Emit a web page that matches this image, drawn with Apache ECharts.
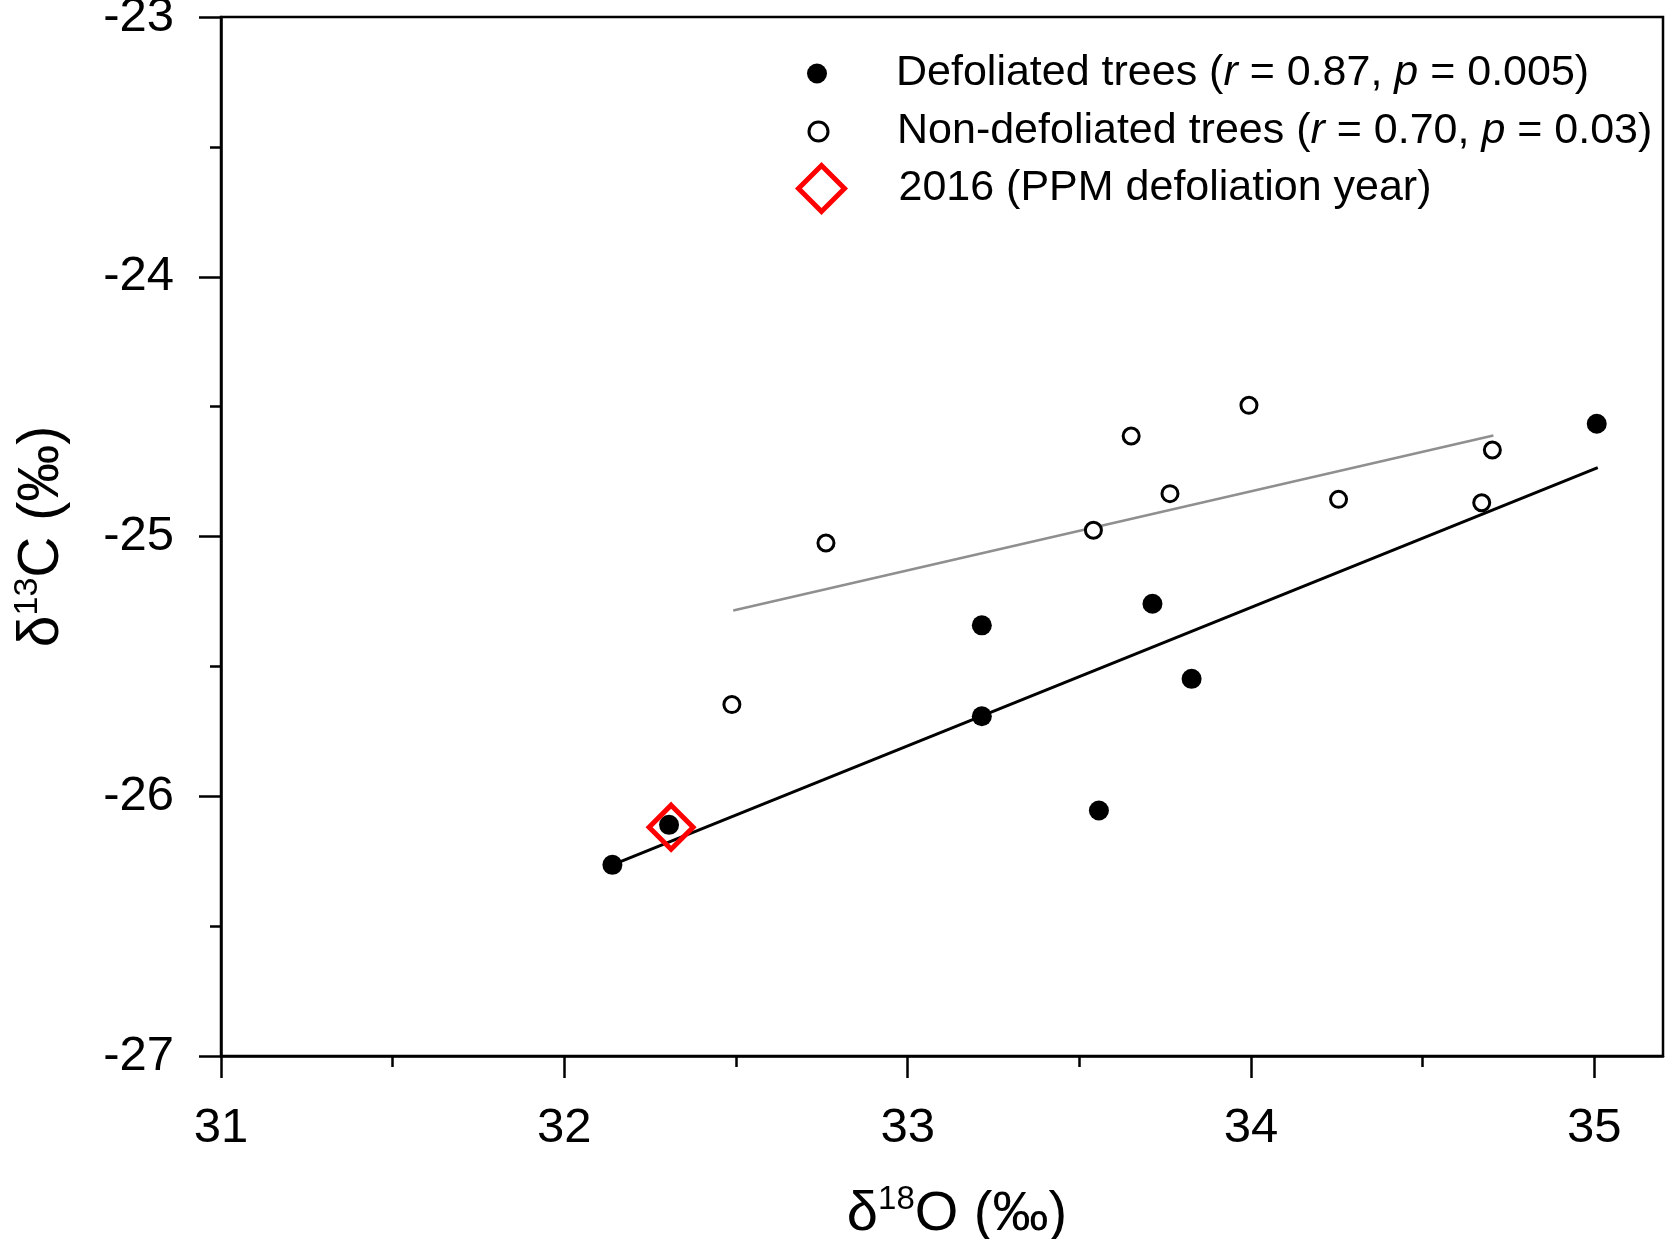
<!DOCTYPE html>
<html>
<head>
<meta charset="utf-8">
<script src="https://cdn.jsdelivr.net/npm/echarts@6/dist/echarts.min.js"></script>
<style>
  html, body { margin: 0; padding: 0; background: #fff; }
  #main { width: 1666px; height: 1239px; }
</style>
</head>
<body>
<div id="main"></div>
<script>
// values
var defoliatedX = [32.14, 32.305, 33.216, 33.216, 33.557, 33.713, 33.827, 35.007];
var defoliatedY = [-26.264, -26.11, -25.342, -25.692, -26.055, -25.259, -25.548, -24.566];
var nonDefoliatedX = [32.488, 32.762, 33.541, 33.651, 33.764, 33.994, 34.255, 34.672, 34.703];
var nonDefoliatedY = [-25.647, -25.025, -24.976, -24.613, -24.835, -24.495, -24.857, -24.870, -24.667];
var year2016X = [32.311];
var year2016Y = [-26.119];
// fitted lines, end points
var defoliatedFitX = [32.14, 35.01];
var defoliatedFitY = [-26.264, -24.735];
var nonDefoliatedFitX = [32.492, 34.706];
var nonDefoliatedFitY = [-25.285, -24.611];

var xMajorTicks = [31, 32, 33, 34, 35];
var xMinorTicks = [31.5, 32.5, 33.5, 34.5];

var names = ['Defoliated trees', 'Non-defoliated trees', '2016 (PPM defoliation year)'];
var legendText = {
    'Defoliated trees': '{n|Defoliated trees (}{i|r}{n| = 0.87, }{i|p}{n| = 0.005)}',
    'Non-defoliated trees': '{n|Non-defoliated trees (}{i|r}{n| = 0.70, }{i|p}{n| = 0.03)}',
    '2016 (PPM defoliation year)': '{n|2016 (PPM defoliation year)}'
};

function pairs(xs, ys) {
    var out = [];
    for (var i = 0; i < xs.length; i++) out.push([xs[i], ys[i]]);
    return out;
}

var font = "'Liberation Sans', Arial, sans-serif";
var legendRich = {
    n: { fontSize: 43, fontFamily: font, color: '#000', lineHeight: 50 },
    i: { fontSize: 43, fontFamily: font, color: '#000', fontStyle: 'italic', lineHeight: 50 }
};

function makeLegend(name, top, left, size, pad, border) {
    return {
        data: [name],
        top: top,
        left: left,
        padding: 0,
        itemWidth: size,
        itemHeight: size,
        selectedMode: false,
        itemStyle: { borderWidth: border },
        formatter: function (n) { return legendText[n]; },
        textStyle: { rich: legendRich, padding: [0, 0, 0, pad] }
    };
}

var myChart = echarts.init(document.getElementById('main'));
var option = {
    backgroundColor: '#fff',
    animation: false,
    grid: {
        left: 221, right: 3, top: 17, bottom: 183,
        outerBoundsMode: 'none',
        containLabel: false,
        show: true, borderColor: '#000', borderWidth: 2.5
    },
    legend: [
        makeLegend(names[0], 52, 807, 20, 64, 0),
        makeLegend(names[1], 110, 807.5, 19, 64, 3),
        makeLegend(names[2], 163, 796, 46, 49, 5)
    ],
    xAxis: [{
        type: 'value',
        position: 'bottom',
        min: 31, max: 35.2, interval: 1,
        splitLine: { show: false },
        axisLine: { lineStyle: { color: '#000', width: 2.5 } },
        axisTick: { customValues: xMajorTicks, length: 22, lineStyle: { color: '#000', width: 2.5 } },
        axisLabel: { customValues: xMajorTicks, fontSize: 49, fontFamily: font, color: '#000', margin: 48 },
        name: '{d|δ}{s|18}{n|O (‰)}',
        nameLocation: 'middle',
        nameGap: 127,
        nameTextStyle: {
            padding: [0, 0, 0, 30],
            rich: {
                d: { fontSize: 56, fontFamily: font, color: '#000', lineHeight: 60, verticalAlign: 'bottom' },
                s: { fontSize: 33, fontFamily: font, color: '#000', lineHeight: 60, verticalAlign: 'top', padding: [0, 0, 14, 0] },
                n: { fontSize: 56, fontFamily: font, color: '#000', lineHeight: 60, verticalAlign: 'bottom' }
            }
        }
    }, {
        type: 'value',
        position: 'bottom',
        min: 31, max: 35.2, interval: 1,
        splitLine: { show: false },
        axisLine: { show: false },
        axisTick: { customValues: xMinorTicks, length: 11, lineStyle: { color: '#000', width: 2.5 } },
        axisLabel: { show: false }
    }],
    yAxis: {
        type: 'value',
        min: -27, max: -23, interval: 1,
        splitLine: { show: false },
        axisLine: { lineStyle: { color: '#000', width: 2.5 } },
        axisTick: { length: 22, lineStyle: { color: '#000', width: 2.5 } },
        minorTick: { show: true, splitNumber: 2, length: 11, lineStyle: { color: '#000', width: 2.5 } },
        axisLabel: { fontSize: 49, fontFamily: font, color: '#000', margin: 47 },
        name: '{d|δ}{s|13}{n|C (‰)}',
        nameLocation: 'middle',
        nameRotate: 90,
        nameGap: 150,
        nameTextStyle: {
            rich: {
                d: { fontSize: 57, fontFamily: font, color: '#000', lineHeight: 60, verticalAlign: 'bottom' },
                s: { fontSize: 34, fontFamily: font, color: '#000', lineHeight: 60, verticalAlign: 'top', padding: [0, 0, 14, 0] },
                n: { fontSize: 57, fontFamily: font, color: '#000', lineHeight: 60, verticalAlign: 'bottom' }
            }
        }
    },
    series: [{
        type: 'line',
        data: pairs(nonDefoliatedFitX, nonDefoliatedFitY),
        symbol: 'none',
        silent: true,
        lineStyle: { color: '#8f8f8f', width: 2.5 },
        z: 1
    }, {
        type: 'line',
        data: pairs(defoliatedFitX, defoliatedFitY),
        symbol: 'none',
        silent: true,
        lineStyle: { color: '#000', width: 3 },
        z: 1
    }, {
        name: names[0],
        type: 'scatter',
        data: pairs(defoliatedX, defoliatedY),
        symbol: 'circle',
        symbolSize: 20,
        itemStyle: { color: '#000', opacity: 1 },
        z: 3
    }, {
        name: names[1],
        type: 'scatter',
        data: pairs(nonDefoliatedX, nonDefoliatedY),
        symbol: 'circle',
        symbolSize: 16,
        itemStyle: { color: '#fff', borderColor: '#000', borderWidth: 3, opacity: 1 },
        z: 3
    }, {
        name: names[2],
        type: 'scatter',
        data: pairs(year2016X, year2016Y),
        symbol: 'diamond',
        symbolSize: 44,
        itemStyle: { color: 'rgba(0,0,0,0)', borderColor: '#ff0000', borderWidth: 5, opacity: 1 },
        z: 4
    }]
};
myChart.setOption(option);
</script>
</body>
</html>
